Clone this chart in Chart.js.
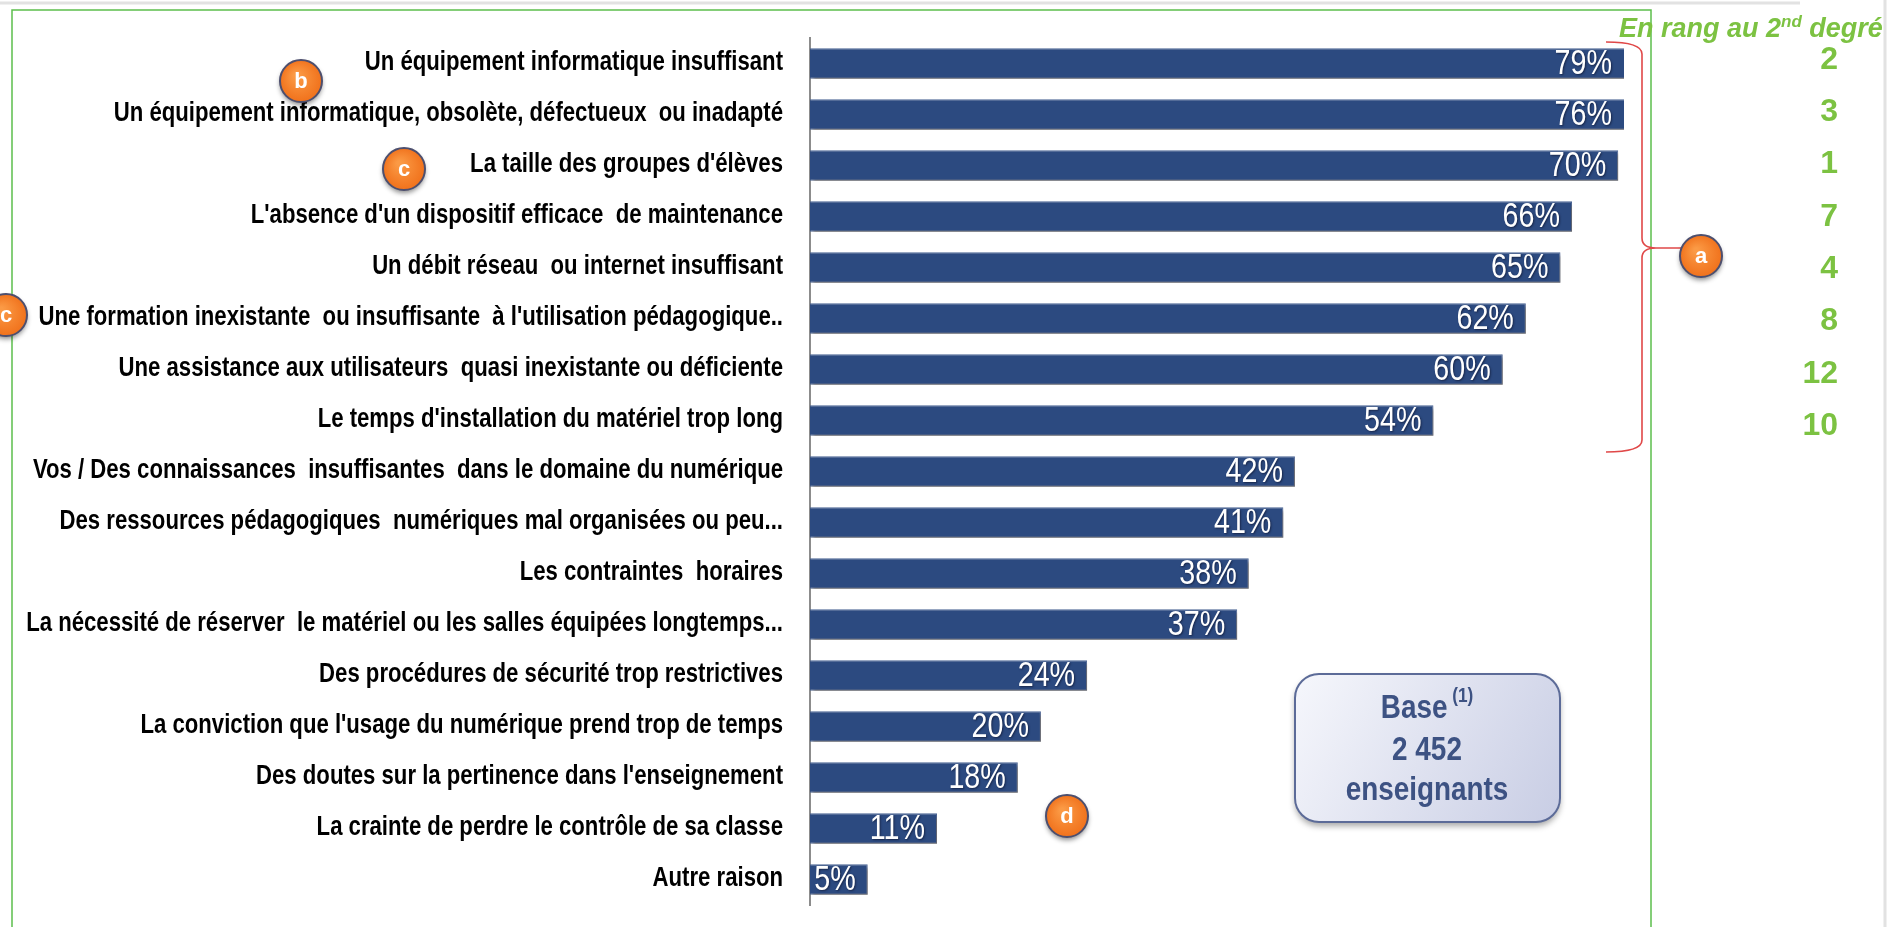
<!DOCTYPE html>
<html lang="fr">
<head>
<meta charset="utf-8" />
<title>Raisons - numérique</title>
<script src="https://cdn.jsdelivr.net/npm/chart.js@4.4.1/dist/chart.umd.min.js"></script>
<style>
  html, body { margin: 0; padding: 0; background: #fff; }
  #wrap { width: 1888px; height: 927px; position: relative; }
</style>
</head>
<body>
<div id="wrap">
  <canvas id="chart" width="1888" height="927"></canvas>
</div>
<script>
// données
const categories = [
  "Un équipement informatique insuffisant",
  "Un équipement informatique, obsolète, défectueux  ou inadapté",
  "La taille des groupes d'élèves",
  "L'absence d'un dispositif efficace  de maintenance",
  "Un débit réseau  ou internet insuffisant",
  "Une formation inexistante  ou insuffisante  à l'utilisation pédagogique..",
  "Une assistance aux utilisateurs  quasi inexistante ou déficiente",
  "Le temps d'installation du matériel trop long",
  "Vos / Des connaissances  insuffisantes  dans le domaine du numérique",
  "Des ressources pédagogiques  numériques mal organisées ou peu...",
  "Les contraintes  horaires",
  "La nécessité de réserver  le matériel ou les salles équipées longtemps...",
  "Des procédures de sécurité trop restrictives",
  "La conviction que l'usage du numérique prend trop de temps",
  "Des doutes sur la pertinence dans l'enseignement",
  "La crainte de perdre le contrôle de sa classe",
  "Autre raison"
];
const values = [79, 76, 70, 66, 65, 62, 60, 54, 42, 41, 38, 37, 24, 20, 18, 11, 5];
const ranks = [2, 3, 1, 7, 4, 8, 12, 10];
const rankTitle = "En rang au 2";
const baseLines = ["Base", "2 452", "enseignants"];

// pas de police "Narrow" installée : on compresse Liberation Sans horizontalement
const SANS = '"Liberation Sans", Arial, sans-serif';
const SQ = 0.82;

// texte compressé horizontalement, x = point d'ancrage réel
function narrowText(ctx, txt, x, y) {
  ctx.save();
  ctx.scale(SQ, 1);
  ctx.fillText(txt, x / SQ, y);
  ctx.restore();
}

function badge(ctx, x, y, letter) {
  ctx.save();
  ctx.shadowColor = 'rgba(0,0,0,0.45)';
  ctx.shadowBlur = 5;
  ctx.shadowOffsetY = 3;
  const g = ctx.createRadialGradient(x - 5, y - 6, 2, x, y, 22);
  g.addColorStop(0, '#fb9a45');
  g.addColorStop(1, '#f0701a');
  ctx.beginPath();
  ctx.arc(x, y, 21, 0, Math.PI * 2);
  ctx.fillStyle = g;
  ctx.fill();
  ctx.shadowColor = 'transparent';
  ctx.lineWidth = 2;
  ctx.strokeStyle = '#4d4f6e';
  ctx.stroke();
  ctx.fillStyle = '#fff';
  ctx.font = 'bold 22px ' + SANS;
  ctx.textAlign = 'center';
  ctx.textBaseline = 'middle';
  ctx.fillText(letter, x, y + 1);
  ctx.restore();
}

function roundRect(ctx, x, y, w, h, r) {
  ctx.beginPath();
  ctx.moveTo(x + r, y);
  ctx.arcTo(x + w, y, x + w, y + h, r);
  ctx.arcTo(x + w, y + h, x, y + h, r);
  ctx.arcTo(x, y + h, x, y, r);
  ctx.arcTo(x, y, x + w, y, r);
  ctx.closePath();
}

const decor = {
  id: 'decor',
  beforeDraw(chart) {
    const ctx = chart.ctx;
    ctx.save();
    // cadre gris léger
    ctx.strokeStyle = '#e2e2e2';
    ctx.lineWidth = 3;
    ctx.beginPath();
    ctx.moveTo(0, 3); ctx.lineTo(1800, 3);
    ctx.moveTo(1885, 0); ctx.lineTo(1885, 927);
    ctx.stroke();
    // cadre vert
    ctx.strokeStyle = '#5cbf4c';
    ctx.lineWidth = 1.5;
    ctx.beginPath();
    ctx.moveTo(12, 935); ctx.lineTo(12, 10); ctx.lineTo(1651, 10); ctx.lineTo(1651, 935);
    ctx.stroke();
    ctx.restore();
  },
  beforeDatasetsDraw(chart) {
    const ctx = chart.ctx;
    ctx.save();
    ctx.shadowColor = 'rgba(120,105,85,0.6)';
    ctx.shadowBlur = 3;
    ctx.shadowOffsetX = 3;
    ctx.shadowOffsetY = 4;
  },
  afterDatasetsDraw(chart) {
    const ctx = chart.ctx;
    ctx.restore();
    const area = chart.chartArea;
    const y = chart.scales.y;
    const meta = chart.getDatasetMeta(0);

    // libellés des catégories
    ctx.save();
    ctx.font = 'bold 27px ' + SANS;
    ctx.textAlign = 'right';
    ctx.textBaseline = 'middle';
    ctx.fillStyle = '#000';
    categories.forEach((c, i) => narrowText(ctx, c, area.left - 27, y.getPixelForValue(i) - 1));
    ctx.restore();

    // valeurs dans les barres
    ctx.save();
    ctx.font = '35px ' + SANS;
    ctx.textAlign = 'right';
    ctx.textBaseline = 'middle';
    ctx.fillStyle = '#ffffff';
    ctx.shadowColor = 'rgba(20,30,60,0.8)';
    ctx.shadowBlur = 2;
    ctx.shadowOffsetX = 1;
    ctx.shadowOffsetY = 1;
    meta.data.forEach((bar, i) => {
      const end = Math.min(bar.x, area.right);
      narrowText(ctx, values[i] + '%', end - 12, bar.y + 1);
    });
    ctx.restore();
  },
  afterDraw(chart) {
    const ctx = chart.ctx;
    ctx.save();
    // titre des rangs
    ctx.fillStyle = '#7cc242';
    ctx.font = 'italic bold 27px ' + SANS;
    ctx.textBaseline = 'alphabetic';
    ctx.textAlign = 'left';
    let x0 = 1619;
    ctx.fillText(rankTitle, x0, 37);
    x0 += ctx.measureText(rankTitle).width;
    ctx.font = 'italic bold 17px ' + SANS;
    ctx.fillText('nd', x0, 27);
    x0 += ctx.measureText('nd').width;
    ctx.font = 'italic bold 27px ' + SANS;
    ctx.fillText(' degré', x0, 37);
    // rangs (colonne un peu plus espacée que les barres)
    ctx.font = 'bold 32px ' + SANS;
    ctx.textAlign = 'right';
    ctx.textBaseline = 'middle';
    ranks.forEach((r, i) => {
      ctx.fillText(String(r), 1838, 60 + i * 52.3);
    });
    // accolade rouge
    const yTop = 42, yBot = 452, yMid = 248, xb = 1642;
    ctx.strokeStyle = '#e04848';
    ctx.lineWidth = 1.6;
    ctx.beginPath();
    ctx.moveTo(1606, yTop);
    ctx.quadraticCurveTo(xb, yTop, xb, yTop + 12);
    ctx.lineTo(xb, yMid - 10);
    ctx.quadraticCurveTo(xb, yMid, xb + 14, yMid);
    ctx.lineTo(1682, yMid);
    ctx.moveTo(xb + 14, yMid);
    ctx.quadraticCurveTo(xb, yMid, xb, yMid + 10);
    ctx.lineTo(xb, yBot - 12);
    ctx.quadraticCurveTo(xb, yBot, 1606, yBot);
    ctx.stroke();
    // boîte Base
    ctx.shadowColor = 'rgba(0,0,0,0.35)';
    ctx.shadowBlur = 6;
    ctx.shadowOffsetY = 4;
    const bg = ctx.createLinearGradient(1295, 674, 1560, 822);
    bg.addColorStop(0, '#f6f7fc');
    bg.addColorStop(1, '#c8cde4');
    roundRect(ctx, 1295, 674, 265, 148, 24);
    ctx.fillStyle = bg;
    ctx.fill();
    ctx.shadowColor = 'transparent';
    ctx.lineWidth = 2;
    ctx.strokeStyle = '#5c6b98';
    ctx.stroke();
    ctx.fillStyle = '#3d5283';
    ctx.textBaseline = 'alphabetic';
    ctx.font = 'bold 34px ' + SANS;
    const bw = ctx.measureText(baseLines[0]).width * SQ;
    ctx.font = 'bold 21px ' + SANS;
    const sw = ctx.measureText(' (1)').width * SQ;
    const bx = 1427 - (bw + sw) / 2;
    ctx.textAlign = 'left';
    ctx.font = 'bold 34px ' + SANS;
    narrowText(ctx, baseLines[0], bx, 718);
    ctx.font = 'bold 21px ' + SANS;
    narrowText(ctx, ' (1)', bx + bw, 702);
    ctx.textAlign = 'center';
    ctx.font = 'bold 34px ' + SANS;
    narrowText(ctx, baseLines[1], 1427, 760);
    narrowText(ctx, baseLines[2], 1427, 800);
    ctx.restore();
    // pastilles
    badge(ctx, 301, 81, 'b');
    badge(ctx, 404, 169, 'c');
    badge(ctx, 6, 315, 'c');
    badge(ctx, 1701, 256, 'a');
    badge(ctx, 1067, 816, 'd');
  }
};

const ctx = document.getElementById('chart').getContext('2d');
new Chart(ctx, {
  type: 'bar',
  data: {
    labels: categories,
    datasets: [{
      data: values,
      backgroundColor: (c) => {
        const el = c.element;
        if (!el || el.y === undefined) return '#2c4a80';
        const g = c.chart.ctx.createLinearGradient(0, el.y - 15, 0, el.y + 15);
        g.addColorStop(0, '#34578f');
        g.addColorStop(0.5, '#2e4e86');
        g.addColorStop(1, '#253d6a');
        return g;
      },
      borderColor: '#4a6394',
      borderWidth: 1,
      barPercentage: 0.6,
      categoryPercentage: 1
    }]
  },
  options: {
    indexAxis: 'y',
    responsive: false,
    animation: false,
    layout: { padding: { top: 38, bottom: 22, right: 264, left: 0 } },
    plugins: {
      legend: { display: false },
      tooltip: { enabled: false }
    },
    scales: {
      x: { display: false, min: 0, max: 70.5 },
      y: {
        grid: { display: false, drawTicks: false },
        border: { display: true, color: '#8c8c8c', width: 2 },
        afterFit: (s) => { s.width = 810; },
        ticks: { display: false }
      }
    }
  },
  plugins: [decor]
});
</script>
</body>
</html>
